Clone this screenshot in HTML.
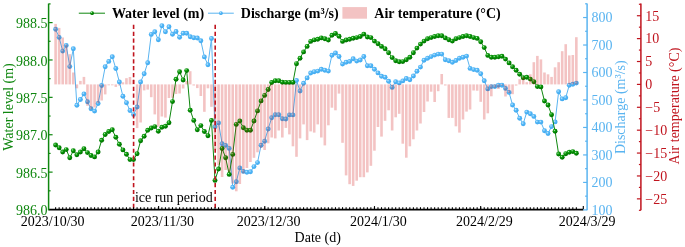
<!DOCTYPE html><html><head><meta charset="utf-8"><style>
html,body{margin:0;padding:0;background:#fff;}
body{width:685px;height:247px;overflow:hidden;}
svg{display:block;will-change:transform;}
text{font-family:"Liberation Serif", serif;font-size:14px;}
</style></head><body>
<svg width="685" height="247" viewBox="0 0 685 247">
<defs><radialGradient id="gb" cx="0.38" cy="0.35" r="0.65"><stop offset="0" stop-color="#c4e8fd"/><stop offset="0.4" stop-color="#52b6f6"/><stop offset="1" stop-color="#3fa9ef"/></radialGradient><radialGradient id="gg" cx="0.36" cy="0.32" r="0.7"><stop offset="0" stop-color="#b8ecb8"/><stop offset="0.28" stop-color="#16a016"/><stop offset="0.6" stop-color="#008600"/><stop offset="1" stop-color="#006c00"/></radialGradient></defs>
<polyline points="55.6,29.2 59.14,37.4 62.69,51.1 66.23,45.4 69.77,66.6 73.31,48.8 76.86,105.3 80.4,99.5 83.94,93.9 87.48,101.8 91.03,108.8 94.57,111.1 98.11,103.5 101.65,85.5 105.19,66.8 108.74,61.4 112.28,56.8 115.82,68.5 119.37,82 122.91,96.2 126.45,102.7 129.99,110.5 133.53,114.6 137.08,107 140.62,82 144.16,73.8 147.71,62.8 151.25,34.4 154.79,31.8 158.33,39.7 161.88,25.7 165.42,31.8 168.96,26.8 172.5,34.2 176.04,31.5 179.59,37.3 183.13,33.3 186.67,33.3 190.22,36.8 193.76,37.7 197.3,38 200.84,40.8 204.38,56.9 207.93,64.8 211.47,38.5 215.01,126.8 218.56,122.9 222.1,143.8 225.64,145.4 229.18,148.4 232.72,187.2 236.27,181.8 239.81,167.9 243.35,171.4 246.89,172.3 250.44,171.8 253.98,166.6 257.52,162.6 261.06,145.2 264.61,141.2 268.15,129 271.69,117.8 275.24,114.8 278.78,114.8 282.32,118.8 285.86,119 289.41,114.9 292.95,114.9 296.49,80.4 300.03,91 303.57,83.3 307.12,77.9 310.66,73 314.2,71.7 317.75,71.1 321.29,69.3 324.83,70.2 328.37,71.1 331.92,55.3 335.46,53 339,56.5 342.54,64.1 346.09,62.3 349.63,61.4 353.17,58.8 356.71,61.1 360.25,60 363.8,56.5 367.34,65.8 370.88,65.8 374.43,69.3 377.97,72.9 381.51,76.3 385.05,77.2 388.6,81.3 392.14,87.4 395.68,81.7 399.22,82.9 402.77,80.9 406.31,78.5 409.85,79.7 413.39,76 416.94,71.3 420.48,67.1 424.02,60.2 427.56,58.2 431.11,56.6 434.65,55.1 438.19,54.1 441.73,54.1 445.28,59.7 448.82,60.7 452.36,62.3 455.9,60.5 459.44,58.2 462.99,57.2 466.53,56.1 470.07,68.4 473.62,69.6 477.16,70.3 480.7,73.8 484.24,80.8 487.79,88.9 491.33,86.6 494.87,86.6 498.41,85.2 501.96,85.2 505.5,88.4 509.04,92.4 512.58,105 516.12,110.3 519.67,118.2 523.21,123.8 526.75,112.1 530.29,113.8 533.84,116.4 537.38,122.1 540.92,122.1 544.47,130.7 548.01,133.5 551.55,126.6 555.09,121.9 558.63,91.7 562.18,98.9 565.72,97.7 569.26,85.2 572.81,84.3 576.35,83.1" fill="none" stroke="#5ab4f0" stroke-width="1" stroke-linejoin="round"/><g fill="url(#gb)"><circle cx="55.6" cy="29.2" r="2.45"/><circle cx="59.14" cy="37.4" r="2.45"/><circle cx="62.69" cy="51.1" r="2.45"/><circle cx="66.23" cy="45.4" r="2.45"/><circle cx="69.77" cy="66.6" r="2.45"/><circle cx="73.31" cy="48.8" r="2.45"/><circle cx="76.86" cy="105.3" r="2.45"/><circle cx="80.4" cy="99.5" r="2.45"/><circle cx="83.94" cy="93.9" r="2.45"/><circle cx="87.48" cy="101.8" r="2.45"/><circle cx="91.03" cy="108.8" r="2.45"/><circle cx="94.57" cy="111.1" r="2.45"/><circle cx="98.11" cy="103.5" r="2.45"/><circle cx="101.65" cy="85.5" r="2.45"/><circle cx="105.19" cy="66.8" r="2.45"/><circle cx="108.74" cy="61.4" r="2.45"/><circle cx="112.28" cy="56.8" r="2.45"/><circle cx="115.82" cy="68.5" r="2.45"/><circle cx="119.37" cy="82" r="2.45"/><circle cx="122.91" cy="96.2" r="2.45"/><circle cx="126.45" cy="102.7" r="2.45"/><circle cx="129.99" cy="110.5" r="2.45"/><circle cx="133.53" cy="114.6" r="2.45"/><circle cx="137.08" cy="107" r="2.45"/><circle cx="140.62" cy="82" r="2.45"/><circle cx="144.16" cy="73.8" r="2.45"/><circle cx="147.71" cy="62.8" r="2.45"/><circle cx="151.25" cy="34.4" r="2.45"/><circle cx="154.79" cy="31.8" r="2.45"/><circle cx="158.33" cy="39.7" r="2.45"/><circle cx="161.88" cy="25.7" r="2.45"/><circle cx="165.42" cy="31.8" r="2.45"/><circle cx="168.96" cy="26.8" r="2.45"/><circle cx="172.5" cy="34.2" r="2.45"/><circle cx="176.04" cy="31.5" r="2.45"/><circle cx="179.59" cy="37.3" r="2.45"/><circle cx="183.13" cy="33.3" r="2.45"/><circle cx="186.67" cy="33.3" r="2.45"/><circle cx="190.22" cy="36.8" r="2.45"/><circle cx="193.76" cy="37.7" r="2.45"/><circle cx="197.3" cy="38" r="2.45"/><circle cx="200.84" cy="40.8" r="2.45"/><circle cx="204.38" cy="56.9" r="2.45"/><circle cx="207.93" cy="64.8" r="2.45"/><circle cx="211.47" cy="38.5" r="2.45"/><circle cx="215.01" cy="126.8" r="2.45"/><circle cx="218.56" cy="122.9" r="2.45"/><circle cx="222.1" cy="143.8" r="2.45"/><circle cx="225.64" cy="145.4" r="2.45"/><circle cx="229.18" cy="148.4" r="2.45"/><circle cx="232.72" cy="187.2" r="2.45"/><circle cx="236.27" cy="181.8" r="2.45"/><circle cx="239.81" cy="167.9" r="2.45"/><circle cx="243.35" cy="171.4" r="2.45"/><circle cx="246.89" cy="172.3" r="2.45"/><circle cx="250.44" cy="171.8" r="2.45"/><circle cx="253.98" cy="166.6" r="2.45"/><circle cx="257.52" cy="162.6" r="2.45"/><circle cx="261.06" cy="145.2" r="2.45"/><circle cx="264.61" cy="141.2" r="2.45"/><circle cx="268.15" cy="129" r="2.45"/><circle cx="271.69" cy="117.8" r="2.45"/><circle cx="275.24" cy="114.8" r="2.45"/><circle cx="278.78" cy="114.8" r="2.45"/><circle cx="282.32" cy="118.8" r="2.45"/><circle cx="285.86" cy="119" r="2.45"/><circle cx="289.41" cy="114.9" r="2.45"/><circle cx="292.95" cy="114.9" r="2.45"/><circle cx="296.49" cy="80.4" r="2.45"/><circle cx="300.03" cy="91" r="2.45"/><circle cx="303.57" cy="83.3" r="2.45"/><circle cx="307.12" cy="77.9" r="2.45"/><circle cx="310.66" cy="73" r="2.45"/><circle cx="314.2" cy="71.7" r="2.45"/><circle cx="317.75" cy="71.1" r="2.45"/><circle cx="321.29" cy="69.3" r="2.45"/><circle cx="324.83" cy="70.2" r="2.45"/><circle cx="328.37" cy="71.1" r="2.45"/><circle cx="331.92" cy="55.3" r="2.45"/><circle cx="335.46" cy="53" r="2.45"/><circle cx="339" cy="56.5" r="2.45"/><circle cx="342.54" cy="64.1" r="2.45"/><circle cx="346.09" cy="62.3" r="2.45"/><circle cx="349.63" cy="61.4" r="2.45"/><circle cx="353.17" cy="58.8" r="2.45"/><circle cx="356.71" cy="61.1" r="2.45"/><circle cx="360.25" cy="60" r="2.45"/><circle cx="363.8" cy="56.5" r="2.45"/><circle cx="367.34" cy="65.8" r="2.45"/><circle cx="370.88" cy="65.8" r="2.45"/><circle cx="374.43" cy="69.3" r="2.45"/><circle cx="377.97" cy="72.9" r="2.45"/><circle cx="381.51" cy="76.3" r="2.45"/><circle cx="385.05" cy="77.2" r="2.45"/><circle cx="388.6" cy="81.3" r="2.45"/><circle cx="392.14" cy="87.4" r="2.45"/><circle cx="395.68" cy="81.7" r="2.45"/><circle cx="399.22" cy="82.9" r="2.45"/><circle cx="402.77" cy="80.9" r="2.45"/><circle cx="406.31" cy="78.5" r="2.45"/><circle cx="409.85" cy="79.7" r="2.45"/><circle cx="413.39" cy="76" r="2.45"/><circle cx="416.94" cy="71.3" r="2.45"/><circle cx="420.48" cy="67.1" r="2.45"/><circle cx="424.02" cy="60.2" r="2.45"/><circle cx="427.56" cy="58.2" r="2.45"/><circle cx="431.11" cy="56.6" r="2.45"/><circle cx="434.65" cy="55.1" r="2.45"/><circle cx="438.19" cy="54.1" r="2.45"/><circle cx="441.73" cy="54.1" r="2.45"/><circle cx="445.28" cy="59.7" r="2.45"/><circle cx="448.82" cy="60.7" r="2.45"/><circle cx="452.36" cy="62.3" r="2.45"/><circle cx="455.9" cy="60.5" r="2.45"/><circle cx="459.44" cy="58.2" r="2.45"/><circle cx="462.99" cy="57.2" r="2.45"/><circle cx="466.53" cy="56.1" r="2.45"/><circle cx="470.07" cy="68.4" r="2.45"/><circle cx="473.62" cy="69.6" r="2.45"/><circle cx="477.16" cy="70.3" r="2.45"/><circle cx="480.7" cy="73.8" r="2.45"/><circle cx="484.24" cy="80.8" r="2.45"/><circle cx="487.79" cy="88.9" r="2.45"/><circle cx="491.33" cy="86.6" r="2.45"/><circle cx="494.87" cy="86.6" r="2.45"/><circle cx="498.41" cy="85.2" r="2.45"/><circle cx="501.96" cy="85.2" r="2.45"/><circle cx="505.5" cy="88.4" r="2.45"/><circle cx="509.04" cy="92.4" r="2.45"/><circle cx="512.58" cy="105" r="2.45"/><circle cx="516.12" cy="110.3" r="2.45"/><circle cx="519.67" cy="118.2" r="2.45"/><circle cx="523.21" cy="123.8" r="2.45"/><circle cx="526.75" cy="112.1" r="2.45"/><circle cx="530.29" cy="113.8" r="2.45"/><circle cx="533.84" cy="116.4" r="2.45"/><circle cx="537.38" cy="122.1" r="2.45"/><circle cx="540.92" cy="122.1" r="2.45"/><circle cx="544.47" cy="130.7" r="2.45"/><circle cx="548.01" cy="133.5" r="2.45"/><circle cx="551.55" cy="126.6" r="2.45"/><circle cx="555.09" cy="121.9" r="2.45"/><circle cx="558.63" cy="91.7" r="2.45"/><circle cx="562.18" cy="98.9" r="2.45"/><circle cx="565.72" cy="97.7" r="2.45"/><circle cx="569.26" cy="85.2" r="2.45"/><circle cx="572.81" cy="84.3" r="2.45"/><circle cx="576.35" cy="83.1" r="2.45"/></g>
<polyline points="55.6,145 59.14,147.8 62.69,152 66.23,149.6 69.77,157.8 73.31,150.8 76.86,154.8 80.4,152 83.94,148.7 87.48,152.6 91.03,155.5 94.57,156.9 98.11,152 101.65,140.3 105.19,134.5 108.74,131.5 112.28,129.8 115.82,137.3 119.37,144.3 122.91,149.9 126.45,154.3 129.99,159.6 133.53,159.6 137.08,153.8 140.62,140.8 144.16,136.3 147.71,130.3 151.25,128 154.79,126.6 158.33,131.2 161.88,127.2 165.42,126.3 168.96,122.8 172.5,101.6 176.04,79.3 179.59,71.8 183.13,80 186.67,70.6 190.22,110.2 193.76,120.4 197.3,129.8 200.84,125.6 204.38,131.5 207.93,135.7 211.47,120.4 215.01,180.4 218.56,169 222.1,148.5 225.64,157.7 229.18,174.4 232.72,154.4 236.27,124.4 239.81,121 243.35,127.8 246.89,130.2 250.44,130.3 253.98,121 257.52,110.9 261.06,100.9 264.61,95.4 268.15,89.5 271.69,82.5 275.24,80.8 278.78,80.8 282.32,82.2 285.86,82.4 289.41,82.4 292.95,82.4 296.49,63.7 300.03,58.2 303.57,51.9 307.12,46.4 310.66,41.4 314.2,39.9 317.75,39.3 321.29,37.9 324.83,38.8 328.37,40 331.92,35.3 335.46,33.5 339,36.2 342.54,41.4 346.09,40 349.63,39.3 353.17,38.3 356.71,37.6 360.25,36.5 363.8,34.1 367.34,37 370.88,37.6 374.43,41.1 377.97,43.7 381.51,46.4 385.05,48.8 388.6,52.8 392.14,57.6 395.68,60.7 399.22,61.8 402.77,61.6 406.31,59.8 409.85,57.2 413.39,52.8 416.94,48.1 420.48,44.1 424.02,41.1 427.56,38.8 431.11,37.6 434.65,36.5 438.19,35.8 441.73,35.8 445.28,37.9 448.82,39.7 452.36,41.1 455.9,38.8 459.44,37.6 462.99,36.5 466.53,35.8 470.07,36.5 473.62,37.6 477.16,38.4 480.7,41.8 484.24,47.6 487.79,55.4 491.33,57.2 494.87,57.2 498.41,56.8 501.96,56.3 505.5,59.1 509.04,62.9 512.58,66.8 516.12,70.3 519.67,74.3 523.21,77.8 526.75,77.3 530.29,79.1 533.84,81.7 537.38,86.6 540.92,86.9 544.47,101 548.01,105 551.55,114.7 555.09,131.3 558.63,154 562.18,157.2 565.72,153.7 569.26,152.3 572.81,151.6 576.35,153.3" fill="none" stroke="#0f870f" stroke-width="1" stroke-linejoin="round"/><g fill="url(#gg)"><circle cx="55.6" cy="145" r="2.45"/><circle cx="59.14" cy="147.8" r="2.45"/><circle cx="62.69" cy="152" r="2.45"/><circle cx="66.23" cy="149.6" r="2.45"/><circle cx="69.77" cy="157.8" r="2.45"/><circle cx="73.31" cy="150.8" r="2.45"/><circle cx="76.86" cy="154.8" r="2.45"/><circle cx="80.4" cy="152" r="2.45"/><circle cx="83.94" cy="148.7" r="2.45"/><circle cx="87.48" cy="152.6" r="2.45"/><circle cx="91.03" cy="155.5" r="2.45"/><circle cx="94.57" cy="156.9" r="2.45"/><circle cx="98.11" cy="152" r="2.45"/><circle cx="101.65" cy="140.3" r="2.45"/><circle cx="105.19" cy="134.5" r="2.45"/><circle cx="108.74" cy="131.5" r="2.45"/><circle cx="112.28" cy="129.8" r="2.45"/><circle cx="115.82" cy="137.3" r="2.45"/><circle cx="119.37" cy="144.3" r="2.45"/><circle cx="122.91" cy="149.9" r="2.45"/><circle cx="126.45" cy="154.3" r="2.45"/><circle cx="129.99" cy="159.6" r="2.45"/><circle cx="133.53" cy="159.6" r="2.45"/><circle cx="137.08" cy="153.8" r="2.45"/><circle cx="140.62" cy="140.8" r="2.45"/><circle cx="144.16" cy="136.3" r="2.45"/><circle cx="147.71" cy="130.3" r="2.45"/><circle cx="151.25" cy="128" r="2.45"/><circle cx="154.79" cy="126.6" r="2.45"/><circle cx="158.33" cy="131.2" r="2.45"/><circle cx="161.88" cy="127.2" r="2.45"/><circle cx="165.42" cy="126.3" r="2.45"/><circle cx="168.96" cy="122.8" r="2.45"/><circle cx="172.5" cy="101.6" r="2.45"/><circle cx="176.04" cy="79.3" r="2.45"/><circle cx="179.59" cy="71.8" r="2.45"/><circle cx="183.13" cy="80" r="2.45"/><circle cx="186.67" cy="70.6" r="2.45"/><circle cx="190.22" cy="110.2" r="2.45"/><circle cx="193.76" cy="120.4" r="2.45"/><circle cx="197.3" cy="129.8" r="2.45"/><circle cx="200.84" cy="125.6" r="2.45"/><circle cx="204.38" cy="131.5" r="2.45"/><circle cx="207.93" cy="135.7" r="2.45"/><circle cx="211.47" cy="120.4" r="2.45"/><circle cx="215.01" cy="180.4" r="2.45"/><circle cx="218.56" cy="169" r="2.45"/><circle cx="222.1" cy="148.5" r="2.45"/><circle cx="225.64" cy="157.7" r="2.45"/><circle cx="229.18" cy="174.4" r="2.45"/><circle cx="232.72" cy="154.4" r="2.45"/><circle cx="236.27" cy="124.4" r="2.45"/><circle cx="239.81" cy="121" r="2.45"/><circle cx="243.35" cy="127.8" r="2.45"/><circle cx="246.89" cy="130.2" r="2.45"/><circle cx="250.44" cy="130.3" r="2.45"/><circle cx="253.98" cy="121" r="2.45"/><circle cx="257.52" cy="110.9" r="2.45"/><circle cx="261.06" cy="100.9" r="2.45"/><circle cx="264.61" cy="95.4" r="2.45"/><circle cx="268.15" cy="89.5" r="2.45"/><circle cx="271.69" cy="82.5" r="2.45"/><circle cx="275.24" cy="80.8" r="2.45"/><circle cx="278.78" cy="80.8" r="2.45"/><circle cx="282.32" cy="82.2" r="2.45"/><circle cx="285.86" cy="82.4" r="2.45"/><circle cx="289.41" cy="82.4" r="2.45"/><circle cx="292.95" cy="82.4" r="2.45"/><circle cx="296.49" cy="63.7" r="2.45"/><circle cx="300.03" cy="58.2" r="2.45"/><circle cx="303.57" cy="51.9" r="2.45"/><circle cx="307.12" cy="46.4" r="2.45"/><circle cx="310.66" cy="41.4" r="2.45"/><circle cx="314.2" cy="39.9" r="2.45"/><circle cx="317.75" cy="39.3" r="2.45"/><circle cx="321.29" cy="37.9" r="2.45"/><circle cx="324.83" cy="38.8" r="2.45"/><circle cx="328.37" cy="40" r="2.45"/><circle cx="331.92" cy="35.3" r="2.45"/><circle cx="335.46" cy="33.5" r="2.45"/><circle cx="339" cy="36.2" r="2.45"/><circle cx="342.54" cy="41.4" r="2.45"/><circle cx="346.09" cy="40" r="2.45"/><circle cx="349.63" cy="39.3" r="2.45"/><circle cx="353.17" cy="38.3" r="2.45"/><circle cx="356.71" cy="37.6" r="2.45"/><circle cx="360.25" cy="36.5" r="2.45"/><circle cx="363.8" cy="34.1" r="2.45"/><circle cx="367.34" cy="37" r="2.45"/><circle cx="370.88" cy="37.6" r="2.45"/><circle cx="374.43" cy="41.1" r="2.45"/><circle cx="377.97" cy="43.7" r="2.45"/><circle cx="381.51" cy="46.4" r="2.45"/><circle cx="385.05" cy="48.8" r="2.45"/><circle cx="388.6" cy="52.8" r="2.45"/><circle cx="392.14" cy="57.6" r="2.45"/><circle cx="395.68" cy="60.7" r="2.45"/><circle cx="399.22" cy="61.8" r="2.45"/><circle cx="402.77" cy="61.6" r="2.45"/><circle cx="406.31" cy="59.8" r="2.45"/><circle cx="409.85" cy="57.2" r="2.45"/><circle cx="413.39" cy="52.8" r="2.45"/><circle cx="416.94" cy="48.1" r="2.45"/><circle cx="420.48" cy="44.1" r="2.45"/><circle cx="424.02" cy="41.1" r="2.45"/><circle cx="427.56" cy="38.8" r="2.45"/><circle cx="431.11" cy="37.6" r="2.45"/><circle cx="434.65" cy="36.5" r="2.45"/><circle cx="438.19" cy="35.8" r="2.45"/><circle cx="441.73" cy="35.8" r="2.45"/><circle cx="445.28" cy="37.9" r="2.45"/><circle cx="448.82" cy="39.7" r="2.45"/><circle cx="452.36" cy="41.1" r="2.45"/><circle cx="455.9" cy="38.8" r="2.45"/><circle cx="459.44" cy="37.6" r="2.45"/><circle cx="462.99" cy="36.5" r="2.45"/><circle cx="466.53" cy="35.8" r="2.45"/><circle cx="470.07" cy="36.5" r="2.45"/><circle cx="473.62" cy="37.6" r="2.45"/><circle cx="477.16" cy="38.4" r="2.45"/><circle cx="480.7" cy="41.8" r="2.45"/><circle cx="484.24" cy="47.6" r="2.45"/><circle cx="487.79" cy="55.4" r="2.45"/><circle cx="491.33" cy="57.2" r="2.45"/><circle cx="494.87" cy="57.2" r="2.45"/><circle cx="498.41" cy="56.8" r="2.45"/><circle cx="501.96" cy="56.3" r="2.45"/><circle cx="505.5" cy="59.1" r="2.45"/><circle cx="509.04" cy="62.9" r="2.45"/><circle cx="512.58" cy="66.8" r="2.45"/><circle cx="516.12" cy="70.3" r="2.45"/><circle cx="519.67" cy="74.3" r="2.45"/><circle cx="523.21" cy="77.8" r="2.45"/><circle cx="526.75" cy="77.3" r="2.45"/><circle cx="530.29" cy="79.1" r="2.45"/><circle cx="533.84" cy="81.7" r="2.45"/><circle cx="537.38" cy="86.6" r="2.45"/><circle cx="540.92" cy="86.9" r="2.45"/><circle cx="544.47" cy="101" r="2.45"/><circle cx="548.01" cy="105" r="2.45"/><circle cx="551.55" cy="114.7" r="2.45"/><circle cx="555.09" cy="131.3" r="2.45"/><circle cx="558.63" cy="154" r="2.45"/><circle cx="562.18" cy="157.2" r="2.45"/><circle cx="565.72" cy="153.7" r="2.45"/><circle cx="569.26" cy="152.3" r="2.45"/><circle cx="572.81" cy="151.6" r="2.45"/><circle cx="576.35" cy="153.3" r="2.45"/></g>
<g fill="#cd0404" fill-opacity="0.24"><rect x="54.3" y="23.9" width="2.6" height="60.5"/><rect x="57.84" y="27.9" width="2.6" height="56.5"/><rect x="61.39" y="37.5" width="2.6" height="46.9"/><rect x="64.93" y="44.5" width="2.6" height="39.9"/><rect x="68.47" y="54.2" width="2.6" height="30.2"/><rect x="72.01" y="72.5" width="2.6" height="11.9"/><rect x="75.56" y="84.4" width="2.6" height="3.9"/><rect x="79.1" y="80.9" width="2.6" height="3.5"/><rect x="82.64" y="76.9" width="2.6" height="7.5"/><rect x="86.18" y="84.4" width="2.6" height="21.4"/><rect x="89.73" y="84.4" width="2.6" height="24.9"/><rect x="93.27" y="84.4" width="2.6" height="23.1"/><rect x="96.81" y="84.4" width="2.6" height="18.7"/><rect x="100.35" y="84.4" width="2.6" height="16.1"/><rect x="103.89" y="84.4" width="2.6" height="10"/><rect x="107.44" y="84.4" width="2.6" height="0.9"/><rect x="110.98" y="84.4" width="2.6" height="0.9"/><rect x="114.52" y="84.4" width="2.6" height="2.5"/><rect x="118.07" y="84.4" width="2.6" height="1.1"/><rect x="121.61" y="82.3" width="2.6" height="2.1"/><rect x="125.15" y="78.2" width="2.6" height="6.2"/><rect x="128.69" y="77" width="2.6" height="7.4"/><rect x="132.23" y="80" width="2.6" height="4.4"/><rect x="135.78" y="84.4" width="2.6" height="43.7"/><rect x="139.32" y="84.4" width="2.6" height="38.1"/><rect x="142.86" y="84.4" width="2.6" height="6"/><rect x="146.41" y="84.4" width="2.6" height="5.2"/><rect x="149.95" y="84.4" width="2.6" height="12.8"/><rect x="153.49" y="84.4" width="2.6" height="30"/><rect x="157.03" y="84.4" width="2.6" height="42.1"/><rect x="160.57" y="84.4" width="2.6" height="32.1"/><rect x="164.12" y="84.4" width="2.6" height="33.2"/><rect x="167.66" y="84.4" width="2.6" height="13.6"/><rect x="171.2" y="84.4" width="2.6" height="13.4"/><rect x="174.74" y="84.4" width="2.6" height="9.6"/><rect x="178.29" y="84.4" width="2.6" height="9.1"/><rect x="181.83" y="84.4" width="2.6" height="4.1"/><rect x="185.37" y="81" width="2.6" height="3.4"/><rect x="188.91" y="71.2" width="2.6" height="13.2"/><rect x="192.46" y="84.4" width="2.6" height="1.1"/><rect x="196" y="84.4" width="2.6" height="3.7"/><rect x="199.54" y="84.4" width="2.6" height="11.6"/><rect x="203.08" y="84.4" width="2.6" height="27.4"/><rect x="206.63" y="84.4" width="2.6" height="3.9"/><rect x="210.17" y="84.4" width="2.6" height="22.4"/><rect x="213.71" y="84.4" width="2.6" height="65.6"/><rect x="217.25" y="84.4" width="2.6" height="80.6"/><rect x="220.8" y="84.4" width="2.6" height="92.6"/><rect x="224.34" y="84.4" width="2.6" height="85.6"/><rect x="227.88" y="84.4" width="2.6" height="87.6"/><rect x="231.42" y="84.4" width="2.6" height="99.1"/><rect x="234.97" y="84.4" width="2.6" height="106.9"/><rect x="238.51" y="84.4" width="2.6" height="99.6"/><rect x="242.05" y="84.4" width="2.6" height="89.1"/><rect x="245.59" y="84.4" width="2.6" height="83.6"/><rect x="249.14" y="84.4" width="2.6" height="77.6"/><rect x="252.68" y="84.4" width="2.6" height="73.4"/><rect x="256.22" y="84.4" width="2.6" height="67.9"/><rect x="259.76" y="84.4" width="2.6" height="63.6"/><rect x="263.31" y="84.4" width="2.6" height="65.6"/><rect x="266.85" y="84.4" width="2.6" height="58.9"/><rect x="270.39" y="84.4" width="2.6" height="53.1"/><rect x="273.94" y="84.4" width="2.6" height="54"/><rect x="277.48" y="84.4" width="2.6" height="46.1"/><rect x="281.02" y="84.4" width="2.6" height="53.1"/><rect x="284.56" y="84.4" width="2.6" height="43.5"/><rect x="288.11" y="84.4" width="2.6" height="50"/><rect x="291.65" y="84.4" width="2.6" height="61.9"/><rect x="295.19" y="84.4" width="2.6" height="72.4"/><rect x="298.73" y="84.4" width="2.6" height="54"/><rect x="302.27" y="84.4" width="2.6" height="40"/><rect x="305.82" y="84.4" width="2.6" height="55.7"/><rect x="309.36" y="84.4" width="2.6" height="47"/><rect x="312.9" y="84.4" width="2.6" height="48.2"/><rect x="316.44" y="84.4" width="2.6" height="40"/><rect x="319.99" y="84.4" width="2.6" height="53.1"/><rect x="323.53" y="84.4" width="2.6" height="61"/><rect x="327.07" y="84.4" width="2.6" height="40.9"/><rect x="330.62" y="84.4" width="2.6" height="23.3"/><rect x="334.16" y="84.4" width="2.6" height="25.9"/><rect x="337.7" y="84.4" width="2.6" height="9.2"/><rect x="341.24" y="84.4" width="2.6" height="58.4"/><rect x="344.79" y="84.4" width="2.6" height="91"/><rect x="348.33" y="84.4" width="2.6" height="99.8"/><rect x="351.87" y="84.4" width="2.6" height="101.5"/><rect x="355.41" y="84.4" width="2.6" height="96.3"/><rect x="358.95" y="84.4" width="2.6" height="92.8"/><rect x="362.5" y="84.4" width="2.6" height="92.8"/><rect x="366.04" y="84.4" width="2.6" height="88"/><rect x="369.58" y="84.4" width="2.6" height="81.4"/><rect x="373.12" y="84.4" width="2.6" height="66.3"/><rect x="376.67" y="84.4" width="2.6" height="42.6"/><rect x="380.21" y="84.4" width="2.6" height="52.2"/><rect x="383.75" y="84.4" width="2.6" height="36.4"/><rect x="387.3" y="84.4" width="2.6" height="25.9"/><rect x="390.84" y="84.4" width="2.6" height="46.1"/><rect x="394.38" y="84.4" width="2.6" height="32.9"/><rect x="397.92" y="84.4" width="2.6" height="29.4"/><rect x="401.47" y="84.4" width="2.6" height="59.3"/><rect x="405.01" y="84.4" width="2.6" height="73.3"/><rect x="408.55" y="84.4" width="2.6" height="61.9"/><rect x="412.09" y="84.4" width="2.6" height="54.9"/><rect x="415.63" y="84.4" width="2.6" height="46.1"/><rect x="419.18" y="84.4" width="2.6" height="39.1"/><rect x="422.72" y="84.4" width="2.6" height="27.6"/><rect x="426.26" y="84.4" width="2.6" height="17.1"/><rect x="429.81" y="84.4" width="2.6" height="7.3"/><rect x="433.35" y="84.4" width="2.6" height="17.6"/><rect x="436.89" y="84.4" width="2.6" height="6.8"/><rect x="440.43" y="74" width="2.6" height="10.4"/><rect x="443.98" y="84.4" width="2.6" height="1.1"/><rect x="447.52" y="84.4" width="2.6" height="33.5"/><rect x="451.06" y="84.4" width="2.6" height="33.5"/><rect x="454.6" y="84.4" width="2.6" height="41.9"/><rect x="458.14" y="84.4" width="2.6" height="48.2"/><rect x="461.69" y="84.4" width="2.6" height="35.1"/><rect x="465.23" y="84.4" width="2.6" height="27.2"/><rect x="468.77" y="84.4" width="2.6" height="25.1"/><rect x="472.31" y="84.4" width="2.6" height="6.1"/><rect x="475.86" y="84.4" width="2.6" height="6.3"/><rect x="479.4" y="84.4" width="2.6" height="17.4"/><rect x="482.94" y="84.4" width="2.6" height="35.1"/><rect x="486.49" y="84.4" width="2.6" height="28.9"/><rect x="490.03" y="84.4" width="2.6" height="11.9"/><rect x="493.57" y="84.4" width="2.6" height="3.4"/><rect x="497.11" y="84.4" width="2.6" height="4.6"/><rect x="500.66" y="84.4" width="2.6" height="1.2"/><rect x="504.2" y="84.4" width="2.6" height="12.1"/><rect x="507.74" y="84.4" width="2.6" height="8.6"/><rect x="511.28" y="84.4" width="2.6" height="9.8"/><rect x="514.83" y="84.4" width="2.6" height="1.2"/><rect x="518.37" y="79.2" width="2.6" height="5.2"/><rect x="521.91" y="76.9" width="2.6" height="7.5"/><rect x="525.45" y="82.2" width="2.6" height="2.2"/><rect x="529" y="74.3" width="2.6" height="10.1"/><rect x="532.54" y="62.2" width="2.6" height="22.2"/><rect x="536.08" y="55.9" width="2.6" height="28.5"/><rect x="539.62" y="59.4" width="2.6" height="25"/><rect x="543.17" y="72.5" width="2.6" height="11.9"/><rect x="546.71" y="74.3" width="2.6" height="10.1"/><rect x="550.25" y="76.9" width="2.6" height="7.5"/><rect x="553.79" y="67.3" width="2.6" height="17.1"/><rect x="557.34" y="62.2" width="2.6" height="22.2"/><rect x="560.88" y="51.2" width="2.6" height="33.2"/><rect x="564.42" y="44.2" width="2.6" height="40.2"/><rect x="567.96" y="55.4" width="2.6" height="29"/><rect x="571.51" y="55" width="2.6" height="29.4"/><rect x="575.05" y="37.2" width="2.6" height="47.2"/></g>
<line x1="133.6" y1="24.8" x2="133.6" y2="209" stroke="#c0141e" stroke-width="1.6" stroke-dasharray="4.2 2.68"/>
<line x1="215.2" y1="24.8" x2="215.2" y2="209" stroke="#c0141e" stroke-width="1.6" stroke-dasharray="4.2 2.68"/>
<line x1="48.6" y1="209.6" x2="583.3" y2="209.6" stroke="#000" stroke-width="1.8"/>
<g stroke="#000" stroke-width="1.1"><line x1="55.6" y1="209.6" x2="55.6" y2="207.2"/><line x1="59.14" y1="209.6" x2="59.14" y2="207.2"/><line x1="62.69" y1="209.6" x2="62.69" y2="207.2"/><line x1="66.23" y1="209.6" x2="66.23" y2="207.2"/><line x1="69.77" y1="209.6" x2="69.77" y2="207.2"/><line x1="73.31" y1="209.6" x2="73.31" y2="207.2"/><line x1="76.86" y1="209.6" x2="76.86" y2="207.2"/><line x1="80.4" y1="209.6" x2="80.4" y2="207.2"/><line x1="83.94" y1="209.6" x2="83.94" y2="207.2"/><line x1="87.48" y1="209.6" x2="87.48" y2="207.2"/><line x1="91.03" y1="209.6" x2="91.03" y2="207.2"/><line x1="94.57" y1="209.6" x2="94.57" y2="207.2"/><line x1="98.11" y1="209.6" x2="98.11" y2="207.2"/><line x1="101.65" y1="209.6" x2="101.65" y2="207.2"/><line x1="105.19" y1="209.6" x2="105.19" y2="207.2"/><line x1="108.74" y1="209.6" x2="108.74" y2="207.2"/><line x1="112.28" y1="209.6" x2="112.28" y2="207.2"/><line x1="115.82" y1="209.6" x2="115.82" y2="207.2"/><line x1="119.37" y1="209.6" x2="119.37" y2="207.2"/><line x1="122.91" y1="209.6" x2="122.91" y2="207.2"/><line x1="126.45" y1="209.6" x2="126.45" y2="207.2"/><line x1="129.99" y1="209.6" x2="129.99" y2="207.2"/><line x1="133.53" y1="209.6" x2="133.53" y2="207.2"/><line x1="137.08" y1="209.6" x2="137.08" y2="207.2"/><line x1="140.62" y1="209.6" x2="140.62" y2="207.2"/><line x1="144.16" y1="209.6" x2="144.16" y2="207.2"/><line x1="147.71" y1="209.6" x2="147.71" y2="207.2"/><line x1="151.25" y1="209.6" x2="151.25" y2="207.2"/><line x1="154.79" y1="209.6" x2="154.79" y2="207.2"/><line x1="158.33" y1="209.6" x2="158.33" y2="207.2"/><line x1="161.88" y1="209.6" x2="161.88" y2="207.2"/><line x1="165.42" y1="209.6" x2="165.42" y2="207.2"/><line x1="168.96" y1="209.6" x2="168.96" y2="207.2"/><line x1="172.5" y1="209.6" x2="172.5" y2="207.2"/><line x1="176.04" y1="209.6" x2="176.04" y2="207.2"/><line x1="179.59" y1="209.6" x2="179.59" y2="207.2"/><line x1="183.13" y1="209.6" x2="183.13" y2="207.2"/><line x1="186.67" y1="209.6" x2="186.67" y2="207.2"/><line x1="190.22" y1="209.6" x2="190.22" y2="207.2"/><line x1="193.76" y1="209.6" x2="193.76" y2="207.2"/><line x1="197.3" y1="209.6" x2="197.3" y2="207.2"/><line x1="200.84" y1="209.6" x2="200.84" y2="207.2"/><line x1="204.38" y1="209.6" x2="204.38" y2="207.2"/><line x1="207.93" y1="209.6" x2="207.93" y2="207.2"/><line x1="211.47" y1="209.6" x2="211.47" y2="207.2"/><line x1="215.01" y1="209.6" x2="215.01" y2="207.2"/><line x1="218.56" y1="209.6" x2="218.56" y2="207.2"/><line x1="222.1" y1="209.6" x2="222.1" y2="207.2"/><line x1="225.64" y1="209.6" x2="225.64" y2="207.2"/><line x1="229.18" y1="209.6" x2="229.18" y2="207.2"/><line x1="232.72" y1="209.6" x2="232.72" y2="207.2"/><line x1="236.27" y1="209.6" x2="236.27" y2="207.2"/><line x1="239.81" y1="209.6" x2="239.81" y2="207.2"/><line x1="243.35" y1="209.6" x2="243.35" y2="207.2"/><line x1="246.89" y1="209.6" x2="246.89" y2="207.2"/><line x1="250.44" y1="209.6" x2="250.44" y2="207.2"/><line x1="253.98" y1="209.6" x2="253.98" y2="207.2"/><line x1="257.52" y1="209.6" x2="257.52" y2="207.2"/><line x1="261.06" y1="209.6" x2="261.06" y2="207.2"/><line x1="264.61" y1="209.6" x2="264.61" y2="207.2"/><line x1="268.15" y1="209.6" x2="268.15" y2="207.2"/><line x1="271.69" y1="209.6" x2="271.69" y2="207.2"/><line x1="275.24" y1="209.6" x2="275.24" y2="207.2"/><line x1="278.78" y1="209.6" x2="278.78" y2="207.2"/><line x1="282.32" y1="209.6" x2="282.32" y2="207.2"/><line x1="285.86" y1="209.6" x2="285.86" y2="207.2"/><line x1="289.41" y1="209.6" x2="289.41" y2="207.2"/><line x1="292.95" y1="209.6" x2="292.95" y2="207.2"/><line x1="296.49" y1="209.6" x2="296.49" y2="207.2"/><line x1="300.03" y1="209.6" x2="300.03" y2="207.2"/><line x1="303.57" y1="209.6" x2="303.57" y2="207.2"/><line x1="307.12" y1="209.6" x2="307.12" y2="207.2"/><line x1="310.66" y1="209.6" x2="310.66" y2="207.2"/><line x1="314.2" y1="209.6" x2="314.2" y2="207.2"/><line x1="317.75" y1="209.6" x2="317.75" y2="207.2"/><line x1="321.29" y1="209.6" x2="321.29" y2="207.2"/><line x1="324.83" y1="209.6" x2="324.83" y2="207.2"/><line x1="328.37" y1="209.6" x2="328.37" y2="207.2"/><line x1="331.92" y1="209.6" x2="331.92" y2="207.2"/><line x1="335.46" y1="209.6" x2="335.46" y2="207.2"/><line x1="339" y1="209.6" x2="339" y2="207.2"/><line x1="342.54" y1="209.6" x2="342.54" y2="207.2"/><line x1="346.09" y1="209.6" x2="346.09" y2="207.2"/><line x1="349.63" y1="209.6" x2="349.63" y2="207.2"/><line x1="353.17" y1="209.6" x2="353.17" y2="207.2"/><line x1="356.71" y1="209.6" x2="356.71" y2="207.2"/><line x1="360.25" y1="209.6" x2="360.25" y2="207.2"/><line x1="363.8" y1="209.6" x2="363.8" y2="207.2"/><line x1="367.34" y1="209.6" x2="367.34" y2="207.2"/><line x1="370.88" y1="209.6" x2="370.88" y2="207.2"/><line x1="374.43" y1="209.6" x2="374.43" y2="207.2"/><line x1="377.97" y1="209.6" x2="377.97" y2="207.2"/><line x1="381.51" y1="209.6" x2="381.51" y2="207.2"/><line x1="385.05" y1="209.6" x2="385.05" y2="207.2"/><line x1="388.6" y1="209.6" x2="388.6" y2="207.2"/><line x1="392.14" y1="209.6" x2="392.14" y2="207.2"/><line x1="395.68" y1="209.6" x2="395.68" y2="207.2"/><line x1="399.22" y1="209.6" x2="399.22" y2="207.2"/><line x1="402.77" y1="209.6" x2="402.77" y2="207.2"/><line x1="406.31" y1="209.6" x2="406.31" y2="207.2"/><line x1="409.85" y1="209.6" x2="409.85" y2="207.2"/><line x1="413.39" y1="209.6" x2="413.39" y2="207.2"/><line x1="416.94" y1="209.6" x2="416.94" y2="207.2"/><line x1="420.48" y1="209.6" x2="420.48" y2="207.2"/><line x1="424.02" y1="209.6" x2="424.02" y2="207.2"/><line x1="427.56" y1="209.6" x2="427.56" y2="207.2"/><line x1="431.11" y1="209.6" x2="431.11" y2="207.2"/><line x1="434.65" y1="209.6" x2="434.65" y2="207.2"/><line x1="438.19" y1="209.6" x2="438.19" y2="207.2"/><line x1="441.73" y1="209.6" x2="441.73" y2="207.2"/><line x1="445.28" y1="209.6" x2="445.28" y2="207.2"/><line x1="448.82" y1="209.6" x2="448.82" y2="207.2"/><line x1="452.36" y1="209.6" x2="452.36" y2="207.2"/><line x1="455.9" y1="209.6" x2="455.9" y2="207.2"/><line x1="459.44" y1="209.6" x2="459.44" y2="207.2"/><line x1="462.99" y1="209.6" x2="462.99" y2="207.2"/><line x1="466.53" y1="209.6" x2="466.53" y2="207.2"/><line x1="470.07" y1="209.6" x2="470.07" y2="207.2"/><line x1="473.62" y1="209.6" x2="473.62" y2="207.2"/><line x1="477.16" y1="209.6" x2="477.16" y2="207.2"/><line x1="480.7" y1="209.6" x2="480.7" y2="207.2"/><line x1="484.24" y1="209.6" x2="484.24" y2="207.2"/><line x1="487.79" y1="209.6" x2="487.79" y2="207.2"/><line x1="491.33" y1="209.6" x2="491.33" y2="207.2"/><line x1="494.87" y1="209.6" x2="494.87" y2="207.2"/><line x1="498.41" y1="209.6" x2="498.41" y2="207.2"/><line x1="501.96" y1="209.6" x2="501.96" y2="207.2"/><line x1="505.5" y1="209.6" x2="505.5" y2="207.2"/><line x1="509.04" y1="209.6" x2="509.04" y2="207.2"/><line x1="512.58" y1="209.6" x2="512.58" y2="207.2"/><line x1="516.12" y1="209.6" x2="516.12" y2="207.2"/><line x1="519.67" y1="209.6" x2="519.67" y2="207.2"/><line x1="523.21" y1="209.6" x2="523.21" y2="207.2"/><line x1="526.75" y1="209.6" x2="526.75" y2="207.2"/><line x1="530.29" y1="209.6" x2="530.29" y2="207.2"/><line x1="533.84" y1="209.6" x2="533.84" y2="207.2"/><line x1="537.38" y1="209.6" x2="537.38" y2="207.2"/><line x1="540.92" y1="209.6" x2="540.92" y2="207.2"/><line x1="544.47" y1="209.6" x2="544.47" y2="207.2"/><line x1="548.01" y1="209.6" x2="548.01" y2="207.2"/><line x1="551.55" y1="209.6" x2="551.55" y2="207.2"/><line x1="555.09" y1="209.6" x2="555.09" y2="207.2"/><line x1="558.63" y1="209.6" x2="558.63" y2="207.2"/><line x1="562.18" y1="209.6" x2="562.18" y2="207.2"/><line x1="565.72" y1="209.6" x2="565.72" y2="207.2"/><line x1="569.26" y1="209.6" x2="569.26" y2="207.2"/><line x1="572.81" y1="209.6" x2="572.81" y2="207.2"/><line x1="576.35" y1="209.6" x2="576.35" y2="207.2"/><line x1="158.61" y1="209.6" x2="158.61" y2="206.1"/><line x1="264.78" y1="209.6" x2="264.78" y2="206.1"/><line x1="374.49" y1="209.6" x2="374.49" y2="206.1"/><line x1="480.67" y1="209.6" x2="480.67" y2="206.1"/><line x1="583.3" y1="209.6" x2="583.3" y2="206.1"/></g>
<g fill="#000"><text x="52.7" y="225.8" text-anchor="middle">2023/10/30</text><text x="162.41" y="225.8" text-anchor="middle">2023/11/30</text><text x="268.58" y="225.8" text-anchor="middle">2023/12/30</text><text x="378.29" y="225.8" text-anchor="middle">2024/1/30</text><text x="484.47" y="225.8" text-anchor="middle">2024/2/29</text><text x="587.1" y="225.8" text-anchor="middle">2024/3/29</text></g>
<text x="317.7" y="242" text-anchor="middle" fill="#000">Date (d)</text>
<line x1="48.6" y1="3.6" x2="48.6" y2="210.29999999999998" stroke="#0f870f" stroke-width="1.5"/>
<g stroke="#0f870f" stroke-width="1.2"><line x1="48.6" y1="3.91" x2="50.6" y2="3.91"/><line x1="48.6" y1="22.6" x2="52.6" y2="22.6"/><line x1="48.6" y1="41.29" x2="50.6" y2="41.29"/><line x1="48.6" y1="59.98" x2="52.6" y2="59.98"/><line x1="48.6" y1="78.67" x2="50.6" y2="78.67"/><line x1="48.6" y1="97.36" x2="52.6" y2="97.36"/><line x1="48.6" y1="116.05" x2="50.6" y2="116.05"/><line x1="48.6" y1="134.74" x2="52.6" y2="134.74"/><line x1="48.6" y1="153.43" x2="50.6" y2="153.43"/><line x1="48.6" y1="172.12" x2="52.6" y2="172.12"/><line x1="48.6" y1="190.81" x2="50.6" y2="190.81"/></g>
<g fill="#0f870f"><text x="47.6" y="28.2" text-anchor="end">988.5</text><text x="47.6" y="65.58" text-anchor="end">988.0</text><text x="47.6" y="102.96" text-anchor="end">987.5</text><text x="47.6" y="140.34" text-anchor="end">987.0</text><text x="47.6" y="177.72" text-anchor="end">986.5</text><text x="47.6" y="215.1" text-anchor="end">986.0</text></g>
<text transform="translate(12.6,107) rotate(-90)" text-anchor="middle" fill="#0f870f">Water level (m)</text>
<line x1="587.1" y1="3.6" x2="587.1" y2="210.3" stroke="#5ab4f0" stroke-width="1.5"/>
<g stroke="#5ab4f0" stroke-width="1.2"><line x1="587.1" y1="3.8" x2="585.1" y2="3.8"/><line x1="587.1" y1="17.54" x2="583.1" y2="17.54"/><line x1="587.1" y1="31.28" x2="585.1" y2="31.28"/><line x1="587.1" y1="45.02" x2="583.1" y2="45.02"/><line x1="587.1" y1="58.76" x2="585.1" y2="58.76"/><line x1="587.1" y1="72.5" x2="583.1" y2="72.5"/><line x1="587.1" y1="86.24" x2="585.1" y2="86.24"/><line x1="587.1" y1="99.98" x2="583.1" y2="99.98"/><line x1="587.1" y1="113.72" x2="585.1" y2="113.72"/><line x1="587.1" y1="127.46" x2="583.1" y2="127.46"/><line x1="587.1" y1="141.2" x2="585.1" y2="141.2"/><line x1="587.1" y1="154.94" x2="583.1" y2="154.94"/><line x1="587.1" y1="168.68" x2="585.1" y2="168.68"/><line x1="587.1" y1="182.42" x2="583.1" y2="182.42"/><line x1="587.1" y1="196.16" x2="585.1" y2="196.16"/><line x1="587.1" y1="209.9" x2="583.1" y2="209.9"/></g>
<g fill="#5ab4f0"><text x="591.5" y="22.34">800</text><text x="591.5" y="49.82">700</text><text x="591.5" y="77.3">600</text><text x="591.5" y="104.78">500</text><text x="591.5" y="132.26">400</text><text x="591.5" y="159.74">300</text><text x="591.5" y="187.22">200</text><text x="591.5" y="214.7">100</text></g>
<text transform="translate(625.3,107.2) rotate(-90)" text-anchor="middle" fill="#5ab4f0">Discharge (m&#179;/s)</text>
<line x1="640.9" y1="3.6" x2="640.9" y2="210.3" stroke="#c0141e" stroke-width="1.5"/>
<g stroke="#c0141e" stroke-width="1.2"><line x1="640.9" y1="4.28" x2="638.9" y2="4.28"/><line x1="640.9" y1="15.73" x2="636.9" y2="15.73"/><line x1="640.9" y1="27.18" x2="638.9" y2="27.18"/><line x1="640.9" y1="38.62" x2="636.9" y2="38.62"/><line x1="640.9" y1="50.07" x2="638.9" y2="50.07"/><line x1="640.9" y1="61.51" x2="636.9" y2="61.51"/><line x1="640.9" y1="72.96" x2="638.9" y2="72.96"/><line x1="640.9" y1="84.4" x2="636.9" y2="84.4"/><line x1="640.9" y1="95.84" x2="638.9" y2="95.84"/><line x1="640.9" y1="107.29" x2="636.9" y2="107.29"/><line x1="640.9" y1="118.74" x2="638.9" y2="118.74"/><line x1="640.9" y1="130.18" x2="636.9" y2="130.18"/><line x1="640.9" y1="141.62" x2="638.9" y2="141.62"/><line x1="640.9" y1="153.07" x2="636.9" y2="153.07"/><line x1="640.9" y1="164.52" x2="638.9" y2="164.52"/><line x1="640.9" y1="175.96" x2="636.9" y2="175.96"/><line x1="640.9" y1="187.41" x2="638.9" y2="187.41"/><line x1="640.9" y1="198.85" x2="636.9" y2="198.85"/><line x1="640.9" y1="210.3" x2="638.9" y2="210.3"/></g>
<g fill="#c0141e"><text x="645.3" y="20.53">15</text><text x="645.3" y="43.42">10</text><text x="645.3" y="66.31">5</text><text x="645.3" y="89.2">0</text><text x="645.3" y="112.09">&#8722;5</text><text x="645.3" y="134.98">&#8722;10</text><text x="645.3" y="157.87">&#8722;15</text><text x="645.3" y="180.76">&#8722;20</text><text x="645.3" y="203.65">&#8722;25</text></g>
<text transform="translate(678.7,106) rotate(-90)" text-anchor="middle" fill="#c0141e">Air temperature (&#176;C)</text>
<text x="134.9" y="201.6" fill="#000">ice run period</text>
<line x1="78.8" y1="13.2" x2="105" y2="13.2" stroke="#0f870f" stroke-width="1"/>
<circle cx="92.1" cy="13.2" r="1.85" fill="url(#gg)"/>
<text x="111.9" y="17.6" font-weight="bold" fill="#000">Water level (m)</text>
<line x1="208" y1="13.2" x2="233.8" y2="13.2" stroke="#5ab4f0" stroke-width="1"/>
<circle cx="220.9" cy="13.2" r="1.85" fill="url(#gb)"/>
<text x="240.8" y="17.6" font-weight="bold" fill="#000">Discharge (m&#179;/s)</text>
<rect x="342.4" y="7.1" width="24.6" height="11.6" fill="#cd0404" fill-opacity="0.24"/>
<text x="374.3" y="17.6" font-weight="bold" fill="#000">Air temperature (&#176;C)</text>
</svg></body></html>
